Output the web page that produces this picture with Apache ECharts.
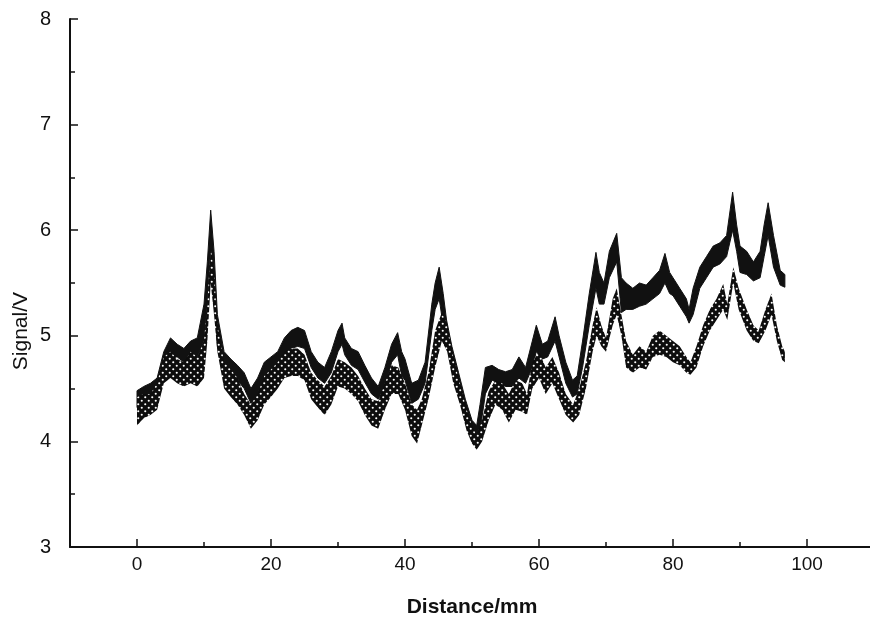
<!DOCTYPE html>
<html>
<head>
<meta charset="utf-8">
<script src="https://cdn.jsdelivr.net/npm/echarts/dist/echarts.min.js"></script>
<style>
html, body { margin: 0; padding: 0; background: #ffffff; }
#chart { width: 870px; height: 625px; }
</style>
</head>
<body>
<div id="chart"></div>
<script>
// Axis ticks
const xMajorTicks = [0, 20, 40, 60, 80, 100];
const xMinorTicks = [10, 30, 50, 70, 90];

// Upper trace (solid black): distance in mm, upper and lower edge of the noisy trace in V
const solidX = [0, 1, 2, 3, 4, 5, 6, 7, 8, 9, 10, 10.5, 11, 11.5, 12, 13, 14, 15, 16, 17, 18, 19, 20,
  21, 22, 23, 24, 25, 26, 27, 28, 29, 30, 30.6, 31, 32, 33, 34, 35, 36, 37, 38, 38.9, 39.5, 40,
  41, 42, 43, 44, 44.5, 45.1, 45.7, 46.2, 47, 48, 49, 50, 50.7, 51.2, 52, 53, 54, 55, 56, 57, 58,
  59, 59.6, 60.5, 61.3, 62.4, 63, 64, 65, 65.7, 66.5, 67.5, 68.5, 69, 69.7, 70.5, 71.6, 72.3, 73,
  74, 75, 76, 77, 78, 78.8, 79.5, 80, 81, 82, 82.4, 83, 84, 85, 86, 87, 88, 88.9, 89.5, 90, 91,
  92, 93, 93.6, 94.2, 95, 96, 96.7];
const solidHi = [4.48, 4.52, 4.55, 4.60, 4.85, 4.98, 4.92, 4.88, 4.95, 4.98, 5.30, 5.70, 6.19, 5.80,
  5.20, 4.85, 4.78, 4.72, 4.65, 4.50, 4.60, 4.75, 4.80, 4.85, 4.98, 5.05, 5.08, 5.05, 4.85, 4.75,
  4.70, 4.85, 5.05, 5.12, 4.98, 4.88, 4.85, 4.72, 4.60, 4.52, 4.70, 4.92, 5.03, 4.85, 4.78, 4.55,
  4.58, 4.75, 5.30, 5.50, 5.65, 5.40, 5.15, 4.90, 4.65, 4.40, 4.20, 4.15, 4.35, 4.70, 4.72, 4.68,
  4.66, 4.68, 4.80, 4.70, 4.95, 5.10, 4.92, 4.95, 5.18, 5.00, 4.75, 4.58, 4.62, 4.95, 5.40, 5.79,
  5.60, 5.50, 5.80, 5.97, 5.55, 5.50, 5.45, 5.50, 5.48, 5.55, 5.62, 5.78, 5.60, 5.55, 5.45, 5.35,
  5.25, 5.45, 5.65, 5.75, 5.85, 5.88, 5.95, 6.36, 6.05, 5.85, 5.80, 5.70, 5.80, 6.05, 6.26, 5.95,
  5.62, 5.58];
const solidLo = [4.32, 4.38, 4.40, 4.45, 4.62, 4.80, 4.80, 4.75, 4.78, 4.80, 4.95, 5.30, 5.85, 5.40,
  4.90, 4.70, 4.62, 4.58, 4.50, 4.36, 4.42, 4.60, 4.66, 4.72, 4.82, 4.88, 4.90, 4.88, 4.70, 4.60,
  4.55, 4.65, 4.85, 4.92, 4.82, 4.72, 4.68, 4.56, 4.45, 4.40, 4.50, 4.75, 4.82, 4.62, 4.58, 4.36,
  4.40, 4.55, 5.05, 5.25, 5.35, 5.10, 4.98, 4.75, 4.50, 4.25, 4.05, 4.00, 4.10, 4.45, 4.58, 4.55,
  4.52, 4.52, 4.60, 4.55, 4.70, 4.85, 4.78, 4.80, 4.95, 4.80, 4.55, 4.42, 4.45, 4.70, 5.10, 5.45,
  5.30, 5.30, 5.55, 5.70, 5.22, 5.25, 5.25, 5.28, 5.30, 5.35, 5.40, 5.50, 5.40, 5.38, 5.28, 5.18,
  5.12, 5.20, 5.45, 5.55, 5.65, 5.68, 5.75, 6.00, 5.80, 5.60, 5.58, 5.52, 5.55, 5.75, 5.95, 5.65,
  5.48, 5.46];

// Lower trace (dotted halftone): distance in mm, upper and lower edge in V
const dotX = [0, 1, 2, 3, 4, 5, 6, 7, 8, 9, 10, 10.5, 11, 11.5, 12, 13, 14, 15, 16, 17, 18, 19, 20,
  21, 22, 23, 24, 25, 26, 27, 28, 29, 30, 31, 32, 33, 34, 35, 36, 37, 38, 39, 40, 41, 41.8, 42.5,
  43.5, 44.5, 45.5, 46.3, 47.2, 48.2, 49.2, 50, 50.7, 51.5, 52.5, 53.5, 54.5, 55.5, 56.5, 57.5,
  58.2, 59, 60, 61, 62, 63, 64, 65.1, 66, 67, 68, 68.6, 69.3, 70, 71, 71.6, 72.3, 73, 74, 75, 76,
  77, 78, 79, 80, 81, 82, 82.6, 83.5, 84.5, 85.5, 86.5, 87.5, 88.1, 89, 89.8, 91, 92, 92.8, 93.8,
  94.7, 95.5, 96.3, 96.7];
const dotHi = [4.42, 4.45, 4.45, 4.55, 4.80, 4.85, 4.78, 4.75, 4.85, 4.80, 4.95, 5.30, 5.84, 5.60,
  5.10, 4.75, 4.68, 4.60, 4.45, 4.35, 4.45, 4.62, 4.68, 4.75, 4.85, 4.88, 4.88, 4.82, 4.65, 4.58,
  4.52, 4.62, 4.78, 4.75, 4.70, 4.62, 4.50, 4.40, 4.38, 4.55, 4.72, 4.70, 4.55, 4.35, 4.30, 4.40,
  4.65, 5.05, 5.22, 5.10, 4.80, 4.55, 4.30, 4.15, 4.05, 4.20, 4.48, 4.58, 4.55, 4.45, 4.58, 4.55,
  4.45, 4.75, 4.85, 4.70, 4.80, 4.65, 4.45, 4.35, 4.50, 4.75, 5.10, 5.27, 5.10, 4.98, 5.35, 5.45,
  5.20, 4.95, 4.82, 4.90, 4.85, 5.00, 5.05, 5.00, 4.95, 4.90, 4.80, 4.75, 4.90, 5.10, 5.25, 5.35,
  5.49, 5.30, 5.65, 5.45, 5.25, 5.10, 5.05, 5.25, 5.40, 5.10, 4.90, 4.85];
const dotLo = [4.15, 4.22, 4.25, 4.30, 4.55, 4.60, 4.55, 4.52, 4.55, 4.52, 4.60, 4.95, 5.50, 5.20,
  4.85, 4.50, 4.42, 4.35, 4.25, 4.12, 4.20, 4.35, 4.42, 4.50, 4.60, 4.62, 4.62, 4.58, 4.40, 4.32,
  4.25, 4.35, 4.52, 4.50, 4.45, 4.38, 4.25, 4.15, 4.12, 4.30, 4.45, 4.45, 4.30, 4.05, 3.98, 4.15,
  4.40, 4.70, 4.95, 4.85, 4.55, 4.35, 4.10, 3.98, 3.92, 4.00, 4.20, 4.35, 4.30, 4.18, 4.30, 4.28,
  4.25, 4.50, 4.60, 4.45, 4.55, 4.40, 4.25, 4.18, 4.25, 4.50, 4.85, 5.00, 4.90, 4.85, 5.10, 5.20,
  5.00, 4.70, 4.65, 4.70, 4.68, 4.80, 4.82, 4.80, 4.75, 4.72, 4.65, 4.63, 4.70, 4.90, 5.05, 5.15,
  5.25, 5.15, 5.50, 5.25, 5.05, 4.95, 4.93, 5.05, 5.20, 4.95, 4.77, 4.75];

// Halftone fill: dark ground with a staggered grid of small white holes
function halftone() {
  const c = document.createElement('canvas');
  c.width = 7; c.height = 7;
  const g = c.getContext('2d');
  g.fillStyle = '#0d0d0d';
  g.fillRect(0, 0, 7, 7);
  g.fillStyle = '#ffffff';
  [[1.75, 1.75], [5.25, 5.25]].forEach(function (p) {
    g.beginPath();
    g.arc(p[0], p[1], 1.05, 0, Math.PI * 2);
    g.fill();
  });
  return { image: c, repeat: 'repeat' };
}

// A filled band between two edges, placed through the cartesian coordinate system
function bandSeries(name, xs, hi, lo, fill, stroke, z) {
  return {
    name: name,
    type: 'custom',
    coordinateSystem: 'cartesian2d',
    z: z,
    silent: true,
    clip: true,
    data: xs.map(function (x, i) { return [x, hi[i], lo[i]]; }),
    encode: { x: 0, y: [1, 2] },
    renderItem: function (params, api) {
      if (params.dataIndex !== 0) return null;
      const top = xs.map(function (x, i) { return api.coord([x, hi[i]]); });
      const bottom = xs.map(function (x, i) { return api.coord([x, lo[i]]); }).reverse();
      return {
        type: 'polygon',
        shape: { points: top.concat(bottom) },
        style: { fill: fill, stroke: stroke, lineWidth: 1 }
      };
    }
  };
}

const labelFont = '"Liberation Sans", Arial, Helvetica, sans-serif';

const chart = echarts.init(document.getElementById('chart'), null, { renderer: 'canvas' });
chart.setOption({
  animation: false,
  backgroundColor: '#ffffff',
  grid: { left: 70, top: 19, width: 804, height: 528, outerBoundsMode: 'none', containLabel: false },
  xAxis: [{
    type: 'value',
    min: -10,
    max: 110,
    axisLine: { show: true, onZero: false, lineStyle: { color: '#111', width: 2 } },
    axisTick: { show: true, inside: true, length: 8, customValues: xMajorTicks, lineStyle: { color: '#111', width: 1.5 } },
    axisLabel: { customValues: xMajorTicks, color: '#111', fontSize: 19, fontFamily: labelFont, margin: 8 },
    splitLine: { show: false },
    name: 'Distance/mm',
    nameLocation: 'middle',
    nameGap: 50,
    nameTextStyle: { color: '#111', fontSize: 21, fontFamily: labelFont, fontWeight: 'bold' }
  }, {
    type: 'value',
    min: -10,
    max: 110,
    position: 'bottom',
    axisLine: { show: false },
    axisTick: { show: true, inside: true, length: 5, customValues: xMinorTicks, lineStyle: { color: '#111', width: 1.5 } },
    axisLabel: { show: false },
    splitLine: { show: false }
  }],
  yAxis: {
    type: 'value',
    min: 3,
    max: 8,
    interval: 1,
    axisLine: { show: true, onZero: false, lineStyle: { color: '#111', width: 2 } },
    axisTick: { show: true, inside: true, length: 8, lineStyle: { color: '#111', width: 1.5 } },
    minorTick: { show: true, splitNumber: 2, length: 5, lineStyle: { color: '#111', width: 1.5 } },
    axisLabel: { color: '#111', fontSize: 20, fontFamily: labelFont, margin: 19 },
    splitLine: { show: false }
  },
  graphic: [{
    type: 'text',
    left: 11,
    top: 292,
    rotation: Math.PI / 2,
    style: { text: 'Signal/V', fill: '#111', fontSize: 21, fontFamily: labelFont }
  }],
  series: [
    bandSeries('upper', solidX, solidHi, solidLo, '#111', '#111', 2),
    bandSeries('lower', dotX, dotHi, dotLo, halftone(), null, 3)
  ]
});
</script>
</body>
</html>
